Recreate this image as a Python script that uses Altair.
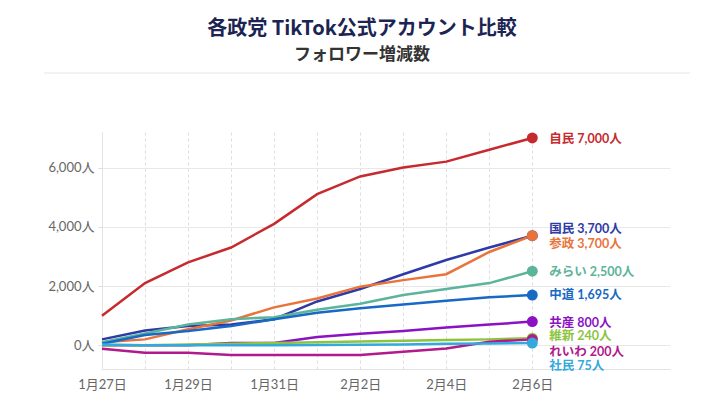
import altair as alt
import pandas as pd

# ---- data ----
date_labels = ["1月27日", "1月28日", "1月29日", "1月30日", "1月31日", "2月1日",
               "2月2日", "2月3日", "2月4日", "2月5日", "2月6日"]
parties = ["自民", "国民", "参政", "みらい", "中道", "共産", "維新", "れいわ", "社民"]
jimin = [1000, 2100, 2800, 3300, 4100, 5100, 5700, 6000, 6200, 6600, 7000]
kokumin = [200, 500, 650, 700, 880, 1480, 1900, 2400, 2880, 3300, 3700]
sansei = [100, 200, 540, 840, 1280, 1580, 1980, 2200, 2400, 3150, 3700]
mirai = [100, 400, 700, 880, 950, 1200, 1400, 1700, 1900, 2100, 2500]
chudo = [50, 350, 480, 650, 880, 1100, 1250, 1380, 1500, 1620, 1695]
kyosan = [0, 0, 0, 80, 80, 280, 390, 480, 600, 700, 800]
ishin = [0, 0, 30, 50, 80, 100, 130, 150, 180, 200, 240]
reiwa = [-120, -250, -250, -330, -330, -330, -330, -220, -110, 120, 200]
shamin = [30, 0, 0, 0, 0, 10, 20, 30, 50, 60, 75]
series_values = [jimin, kokumin, sansei, mirai, chudo, kyosan, ishin, reiwa, shamin]
colors = ["#c62a2e", "#2e3aa6", "#e8743b", "#5cb49a", "#1769c4",
          "#8a12c4", "#8dc43f", "#b01a8c", "#33a9dc"]
y_ticks = [0, 2000, 4000, 6000]

# label vertical nudges (layout only)
label_dy = {"自民": 1, "国民": -7, "参政": 8, "みらい": 1, "中道": 0,
            "共産": 1, "維新": -2, "れいわ": 13, "社民": 23}

rows = []
for p, vals in zip(parties, series_values):
    for i, v in enumerate(vals):
        rows.append({"party": p, "idx": i, "value": v})
df = pd.DataFrame(rows)
last = len(date_labels) - 1
end_df = df[df["idx"] == last].copy()
end_df["label"] = [f"{p} {v:,}人" for p, v in zip(end_df["party"], end_df["value"])]

FONT = "Lato, Noto Sans CJK JP, sans-serif"
color_scale = alt.Scale(domain=parties, range=colors)
x_scale = alt.Scale(domain=[0, 13.2], nice=False, zero=False)
y_scale = alt.Scale(domain=[-800, 7200], nice=False, zero=False)

lab_arr = "[" + ",".join(f"'{d}'" for d in date_labels) + "]"
x_axis = alt.Axis(values=list(range(len(date_labels))),
                  labelExpr=f"datum.value % 2 == 0 ? {lab_arr}[datum.value] : ''",
                  grid=True, gridDash=[3, 3], gridColor="#dddddd",
                  ticks=False, domainColor="#e3e3e3", labelColor="#666666",
                  labelFontSize=13, labelFont=FONT, labelPadding=9, title=None,
                  labelFlush=False)
y_axis = alt.Axis(values=y_ticks, labelExpr="format(datum.value, ',') + '人'",
                  grid=True, gridColor="#e8e8e8", tickColor="#dddddd", tickSize=4,
                  domainColor="#e3e3e3", labelColor="#666666", labelFontSize=13,
                  labelFont=FONT, labelPadding=4, title=None)

base = alt.Chart(df)
lines = base.mark_line(strokeWidth=2.5).encode(
    x=alt.X("idx:Q", scale=x_scale, axis=x_axis),
    y=alt.Y("value:Q", scale=y_scale, axis=y_axis),
    color=alt.Color("party:N", scale=color_scale, legend=None),
    detail="party:N",
)
dots = alt.Chart(end_df).mark_circle(size=120, opacity=1).encode(
    x=alt.X("idx:Q", scale=x_scale),
    y=alt.Y("value:Q", scale=y_scale),
    color=alt.Color("party:N", scale=color_scale, legend=None),
)
label_layers = []
for p in parties:
    label_layers.append(
        alt.Chart(end_df[end_df["party"] == p]).mark_text(
            align="left", baseline="middle", dx=17, dy=label_dy[p],
            fontSize=12.5, fontWeight="bold", font=FONT,
        ).encode(
            x=alt.X("idx:Q", scale=x_scale),
            y=alt.Y("value:Q", scale=y_scale),
            text="label:N",
            color=alt.Color("party:N", scale=color_scale, legend=None),
        )
    )
sep = alt.Chart(pd.DataFrame({"a": [0]})).mark_rule(color="#e6e6e6", strokeWidth=1).encode(
    x=alt.value(-58), x2=alt.value(588), y=alt.value(-59)
)

chart = alt.layer(sep, lines, dots, *label_layers).properties(
    width=568, height=237,
    autosize=alt.AutoSizeParams(type="none"),
    padding={"left": 94, "top": 124, "right": 46, "bottom": 30},
    title=alt.TitleParams(
        text="各政党 TikTok公式アカウント比較",
        subtitle="フォロワー増減数",
        anchor="middle", frame="group", dx=-24, offset=10,
        font="Noto Sans CJK JP", fontSize=20, fontWeight="bold", color="#1b2452",
        subtitleFont="Noto Sans CJK JP", subtitleFontSize=17,
        subtitleFontWeight="bold", subtitleColor="#333333", subtitlePadding=8,
    ),
).configure_view(stroke=None)

chart.save("out.html", embed_options={"renderer": "svg", "actions": False})
